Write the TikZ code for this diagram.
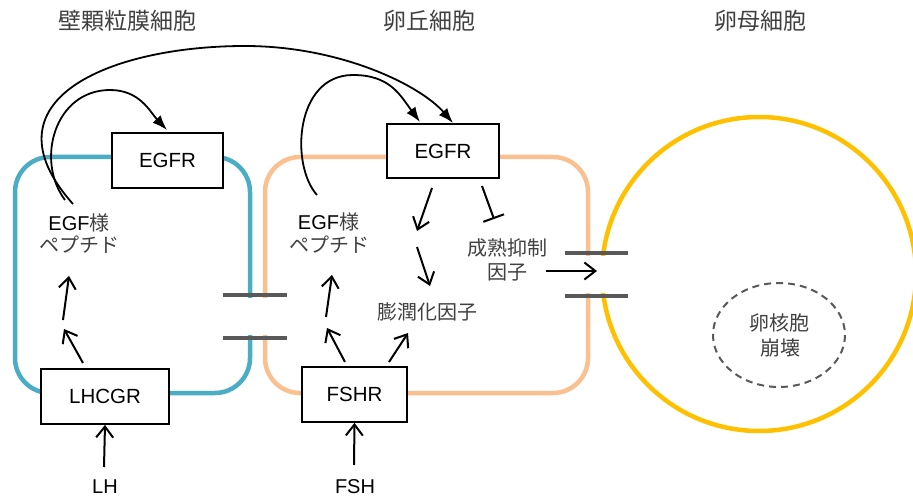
\documentclass[tikz,border=0pt]{standalone}
\usepackage{fontspec}
\setmainfont{Liberation Sans}
\newfontfamily\jpfont{Noto Sans CJK JP}
\usetikzlibrary{arrows.meta}
\definecolor{cellblue}{HTML}{4BACC6}
\definecolor{cellorange}{HTML}{FAC090}
\definecolor{oocyteyellow}{HTML}{FFC000}
\definecolor{junctiongray}{HTML}{595959}
\definecolor{jptext}{HTML}{404040}
\begin{document}
\begin{tikzpicture}[x=1pt,y=-1pt,
  membrane/.style={line width=4.5pt, rounded corners=35pt},
  junction/.style={line width=4pt, draw=junctiongray},
  receptor/.style={draw, line width=1.8pt, fill=white, inner sep=0pt,
    font=\fontsize{20.5}{24}\selectfont},
  lbl/.style={font=\jpfont\fontsize{20}{24}\selectfont, text=jptext, inner sep=0pt, anchor=base},
  celltitle/.style={font=\jpfont\fontsize{23}{27}\selectfont, text=jptext, inner sep=0pt, anchor=base},
  latin/.style={font=\fontsize{20}{24}\selectfont, inner sep=0pt, anchor=base},
  farr/.style={line width=1.8pt, -{Latex[length=15pt,width=11pt]}},
  oarr/.style={line width=2pt, -{Straight Barb[length=11pt,width=17pt]}},
  inhib/.style={line width=2pt, -{Bar[width=22pt,line width=2pt]}}]
\useasboundingbox (0,0) rectangle (913,497);

% cell outlines
\draw[membrane, cellblue] (15,157) rectangle (250,393);
\draw[membrane, cellorange] (265,157) rectangle (588,393);
\draw[line width=4.5pt, oocyteyellow] (759,274) circle[radius=157];
% openings of the gap junctions
\fill[white] (240,298) rectangle (275,335);
\fill[white] (578,256) rectangle (618,293);
% gap junction plates
\draw[junction] (223,295) -- (287,295);
\draw[junction] (223,338) -- (287,338);
\draw[junction] (565,253) -- (628,253);
\draw[junction] (565,296) -- (628,296);
% germinal vesicle
\draw[junctiongray, line width=2pt, dash pattern=on 7pt off 5pt] (779,335) ellipse[x radius=66, y radius=52];

% titles
\node[celltitle] (t1) at (127,30) {壁顆粒膜細胞};
\node[celltitle] (t2) at (429,30) {卵丘細胞};
\node[celltitle] (t3) at (760,30) {卵母細胞};

% receptors
\node[receptor, minimum width=111pt, minimum height=55pt] (egfrL) at (167.5,160.5) {EGFR};
\node[receptor, minimum width=112pt, minimum height=54pt] (egfrM) at (443,151) {EGFR};
\node[receptor, minimum width=128pt, minimum height=55pt] (lhcgr) at (105,396.5) {LHCGR};
\node[receptor, minimum width=105pt, minimum height=55pt] (fshr) at (354.5,394.5) {FSHR};

% labels
\node[lbl] (pepL1) at (79,230.5) {{\rmfamily\color{black}EGF}様};
\node[lbl] (pepL2) at (79,252.5) {ペプチド};
\node[lbl] (pepM1) at (328.5,229.5) {{\rmfamily\color{black}EGF}様};
\node[lbl] (pepM2) at (329,252.5) {ペプチド};
\node[lbl] (mif1) at (507,255.5) {成熟抑制};
\node[lbl] (mif2) at (507,279.5) {因子};
\node[lbl] (exp) at (427,319.5) {膨潤化因子};
\node[lbl] (gv1) at (779.5,330.5) {卵核胞};
\node[lbl] (gv2) at (780,355.5) {崩壊};
\node[latin] (lh) at (105,493.5) {LH};
\node[latin] (fsh) at (355,493) {FSH};

% free ends of the signalling arrows
\coordinate (pepLa) at (73,204);
\coordinate (pepLb) at (65,200);
\coordinate (pepMa) at (317,195);
\coordinate (egfrMin1) at (453,123);
\coordinate (egfrMin2) at (420,122);
\coordinate (egfrLin) at (167,130);
\coordinate (lhTail) at (104,467);
\coordinate (fshTail) at (354,465);
\coordinate (l1s) at (83,363);
\coordinate (l1e) at (64,329);
\coordinate (l2s) at (63,320);
\coordinate (l2e) at (69,276);
\coordinate (f1s) at (345,362);
\coordinate (f1e) at (327,328);
\coordinate (f2s) at (326,317);
\coordinate (f2e) at (332,275);
\coordinate (f3s) at (389,362);
\coordinate (f3e) at (408,333);
\coordinate (e1s) at (432,188);
\coordinate (e1e) at (417,231);
\coordinate (e2s) at (417,247);
\coordinate (e2e) at (430,286);
\coordinate (ins) at (482,186);
\coordinate (ine) at (494,219);
\coordinate (mifs) at (546,271);
\coordinate (oocyte) at (597,271);

% EGF-like peptide signalling
\draw[farr] (pepLa) .. controls (-20,100) and (110,46) .. (245,46)
  .. controls (340,46) and (420,85) .. (egfrMin1);
\draw[farr] (pepLb) .. controls (35,160) and (55,90) .. (110,90)
  .. controls (140,90) and (150,112) .. (egfrLin);
\draw[farr] (pepMa) .. controls (290,165) and (295,75) .. (353,75)
  .. controls (390,75) and (400,95) .. (egfrMin2);

% hormone inputs
\draw[oarr] (lhTail) -- (lhcgr.south);
\draw[oarr] (fshTail) -- (fshr.south);

% mural granulosa cascade
\draw[oarr] (l1s) -- (l1e);
\draw[oarr] (l2s) -- (l2e);

% cumulus cascade
\draw[oarr] (f1s) -- (f1e);
\draw[oarr] (f2s) -- (f2e);
\draw[oarr] (f3s) -- (f3e);
\draw[oarr] (e1s) -- (e1e);
\draw[oarr] (e2s) -- (e2e);
\draw[inhib] (ins) -- (ine);
\draw[oarr] (mifs) -- (oocyte);
\end{tikzpicture}
\end{document}
